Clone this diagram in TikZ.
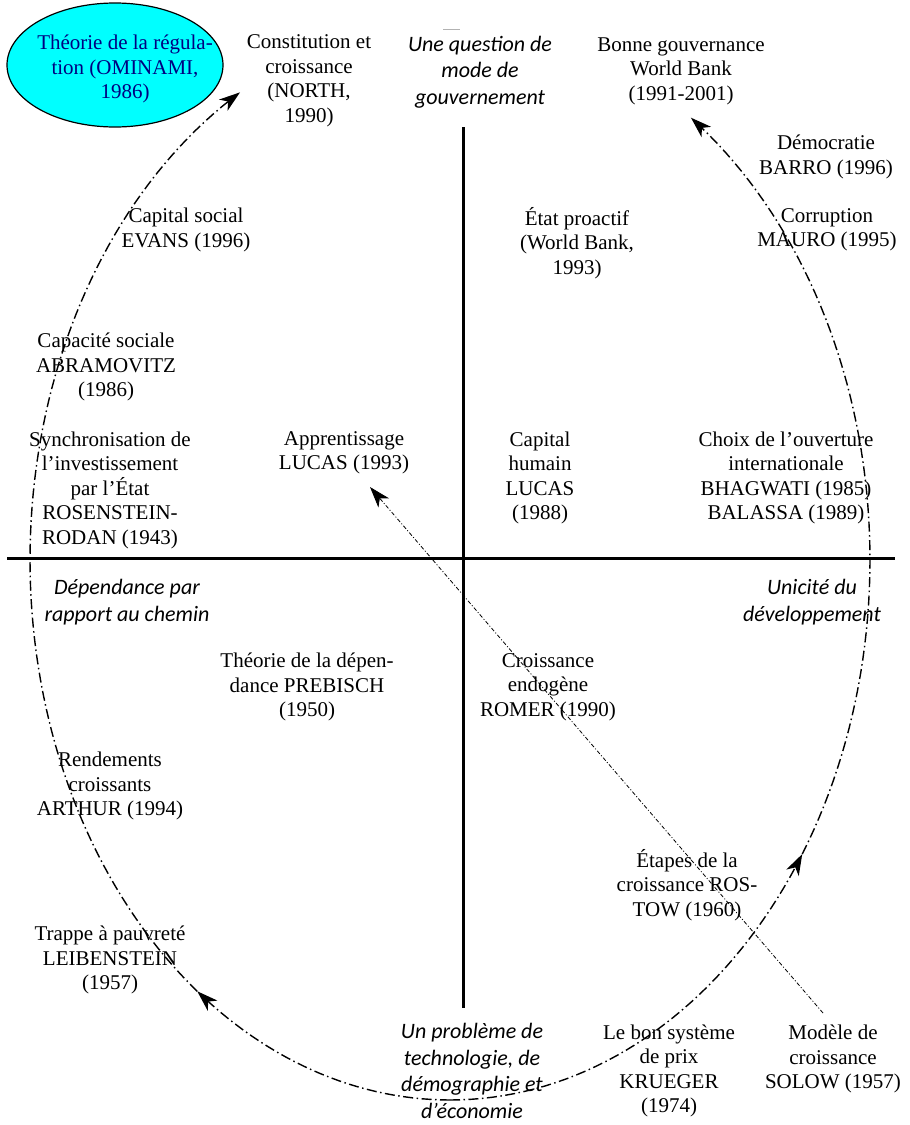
\documentclass[tikz,border=0pt]{standalone}
\usepackage{fontspec}
\setmainfont{Liberation Serif}
\newfontfamily\labsans{Carlito}
\usetikzlibrary{shapes.geometric,arrows.meta}
\definecolor{navyblue}{RGB}{0,0,128}
\definecolor{regcyan}{RGB}{0,255,255}
\begin{document}
\begin{tikzpicture}[x=0.5pt,y=-0.5pt,
  txt/.style={align=center, font=\fontsize{10.5}{12.25}\selectfont, inner sep=1pt},
  theme/.style={align=center, font=\labsans\itshape\fontsize{11}{13.3}\selectfont, inner sep=1pt},
  axisline/.style={line width=1.5pt},
  tipstyle/.style={-{Stealth[length=10.5pt,width=7pt,inset=3pt]}},
  cyclearc/.style={tipstyle, line width=0.7pt, dash pattern=on 5pt off 1.75pt on 0.75pt off 1.75pt},
  linkline/.style={tipstyle, line width=0.4pt, dash pattern=on 2pt off 1pt on 0.5pt off 1pt}
]
\useasboundingbox (0,0) rectangle (910,1125);

% axes
\coordinate (vtop) at (463,127);
\coordinate (vbot) at (463,1008);
\coordinate (hleft) at (7,558);
\coordinate (hright) at (895,558);
\draw[axisline] (vtop) -- (vbot);
\draw[axisline] (hleft) -- (hright);
\coordinate (mk1) at (443,29);
\coordinate (mk2) at (460,29);
\draw[gray!60, line width=0.5pt] (mk1) -- (mk2);

% regulation ellipse
\node[ellipse, draw, fill=regcyan, minimum width=108pt, minimum height=62pt, inner sep=0pt, line width=0.6pt] (reg) at (115,65) {};
\node[txt, text=navyblue] (regt) at (125,69) {Théorie de la régula-\\tion (OMINAMI,\\1986)};

% labels
\node[txt] (north) at (309,81) {Constitution et\\croissance\\(NORTH,\\1990)};
\node[theme] (gouv) at (480,72) {Une question de\\mode de\\gouvernement};
\node[txt] (bonne) at (681,71) {Bonne gouvernance\\World Bank\\(1991-2001)};
\node[txt] (demo) at (826,157) {Démocratie\\BARRO (1996)};
\node[txt] (corr) at (827,230) {Corruption\\MAURO (1995)};
\node[txt] (etat) at (577,243) {État proactif\\(World Bank,\\1993)};
\node[txt] (evans) at (186,230) {Capital social\\EVANS (1996)};
\node[txt] (abra) at (106,367) {Capacité sociale\\ABRAMOVITZ\\(1986)};
\node[txt] (synch) at (110,490) {Synchronisation de\\l’investissement\\par l’État\\ROSENSTEIN-\\RODAN (1943)};
\node[txt] (appr) at (344,453) {Apprentissage\\LUCAS (1993)};
\node[txt] (caphum) at (540,478) {Capital\\humain\\LUCAS\\(1988)};
\node[txt] (choix) at (786,478) {Choix de l’ouverture\\internationale\\BHAGWATI (1985)\\BALASSA (1989)};
\node[theme] (dep) at (127,602) {Dépendance par\\rapport au chemin};
\node[theme] (unic) at (812,602) {Unicité du\\développement};
\node[txt] (preb) at (307,687) {Théorie de la dépen-\\dance PREBISCH\\(1950)};
\node[txt] (romer) at (548,687) {Croissance\\endogène\\ROMER (1990)};
\node[txt] (arthur) at (110,786) {Rendements\\croissants\\ARTHUR (1994)};
\node[txt] (rostow) at (687,885) {Étapes de la\\croissance ROS-\\TOW (1960)};
\node[txt] (leib) at (110,960) {Trappe à pauvreté\\LEIBENSTEIN\\(1957)};
\node[theme] (probl) at (472,1071) {Un problème de\\technologie, de\\démographie et\\d’économie};
\node[txt] (krueger) at (669,1071) {Le bon système\\de prix\\KRUEGER\\(1974)};
\node[txt] (solow) at (833,1059) {Modèle de\\croissance\\SOLOW (1957)};

% cycle arcs (ellipse centre (450,560), radii 420 x 540)
\draw[cyclearc] plot[domain=90:127, samples=30, variable=\t] ({450+420*cos(\t)},{560+540*sin(\t)});
\draw[cyclearc] plot[domain=127:240, samples=80, variable=\t] ({450+420*cos(\t)},{560+540*sin(\t)});
\draw[cyclearc] plot[domain=90:33, samples=40, variable=\t] ({450+420*cos(\t)},{560+540*sin(\t)});
\draw[cyclearc] plot[domain=33:-55, samples=60, variable=\t] ({450+420*cos(\t)},{560+540*sin(\t)});

% Solow -> Apprentissage link
\coordinate (sfrom) at (823,1013);
\coordinate (ato) at (370,487);
\draw[linkline] (sfrom) -- (ato);
\end{tikzpicture}
\end{document}
